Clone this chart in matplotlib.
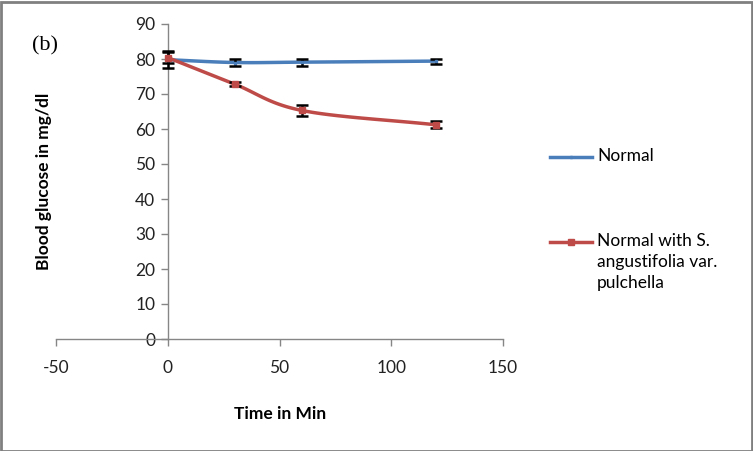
import numpy as np
import matplotlib
matplotlib.use("Agg")
import matplotlib.pyplot as plt
from matplotlib.lines import Line2D
from matplotlib.patches import Rectangle

plt.rcParams["axes.unicode_minus"] = False

time_min = [0, 30, 60, 120]
normal = [79.8, 79.0, 79.1, 79.4]
normal_err = [2.4, 1.0, 1.0, 0.7]
treated = [80.4, 72.8, 65.3, 61.2]
treated_err = [1.5, 0.6, 1.5, 1.0]
series_names = ["Normal", "Normal with S.\nangustifolia var.\npulchella"]
xticks = [-50, 0, 50, 100, 150]
yticks = [0, 10, 20, 30, 40, 50, 60, 70, 80, 90]

BLUE = "#4A7EBB"
RED = "#BE4B48"
GRAY = "#868686"
FONT = ["Lato", "DejaVu Sans"]


def smooth(x, y, n=30):
    # Catmull-Rom style smoothing for drawing (like Excel smoothed line)
    x = np.asarray(x, float); y = np.asarray(y, float)
    P = np.column_stack([x, y])
    P = np.vstack([P[0] - (P[1] - P[0]), P, P[-1] + (P[-1] - P[-2])])
    out = []
    for i in range(1, len(P) - 2):
        p0, p1, p2, p3 = P[i - 1], P[i], P[i + 1], P[i + 2]
        t = np.linspace(0, 1, n)[:, None]
        m1 = (p2 - p0) / 6.0
        m2 = (p3 - p1) / 6.0
        b0 = p1; b1 = p1 + m1; b2 = p2 - m2; b3 = p2
        seg = ((1 - t) ** 3) * b0 + 3 * ((1 - t) ** 2) * t * b1 + 3 * (1 - t) * t ** 2 * b2 + t ** 3 * b3
        out.append(seg)
    out = np.vstack(out)
    return out[:, 0], out[:, 1]


fig = plt.figure(figsize=(7.53, 4.51), dpi=100)
ax = fig.add_axes([56 / 753, 1 - 339 / 451, (503 - 56) / 753, (339 - 24) / 451])

for vals, err, col, ms in [(normal, normal_err, BLUE, 2), (treated, treated_err, RED, 4.5)]:
    sx, sy = smooth(time_min, vals)
    ax.plot(sx, sy, color=col, lw=2.5, solid_capstyle="round", zorder=2)
    ax.errorbar(time_min, vals, yerr=err, fmt="none", ecolor="black", elinewidth=1.8,
                capsize=4.5, capthick=1.8, zorder=3)
    ax.plot(time_min, vals, ls="none", marker="s", ms=ms, color=col, zorder=4)

ax.set_xlim(-50, 150)
ax.set_ylim(0, 90)
ax.set_xticks(xticks)
ax.set_yticks(yticks)
ax.spines["left"].set_position(("data", 0))
ax.spines["bottom"].set_position(("data", 0))
ax.spines["right"].set_visible(False)
ax.spines["top"].set_visible(False)
for s in ("left", "bottom"):
    ax.spines[s].set_color(GRAY)
    ax.spines[s].set_linewidth(1.0)
ax.tick_params(axis="both", direction="out", length=5, width=1.0, color=GRAY,
               labelsize=12.5, labelcolor="#222222")
ax.tick_params(axis="x", pad=10)
ax.tick_params(axis="y", pad=4)
for lab in ax.get_xticklabels() + ax.get_yticklabels():
    lab.set_family(FONT)

fig.text(280 / 753, 1 - 414 / 451, "Time in Min", ha="center", va="center",
         fontsize=12.5, fontweight="bold", family=FONT)
fig.text(44 / 753, 1 - 181 / 451, "Blood glucose in mg/dl", ha="center", va="center",
         rotation=90, fontsize=12.5, fontweight="bold", family=FONT)
fig.text(45 / 753, 1 - 46 / 451, "(b)", ha="center", va="center", fontsize=16,
         family=["Liberation Serif", "DejaVu Serif"])

# legend (manual)
leg_y = [157, 242]
for name, col, yy, ms in zip(series_names, [BLUE, RED], leg_y, [2, 4.5]):
    fy = 1 - yy / 451
    fig.add_artist(Line2D([550 / 753, 592 / 753], [fy, fy], color=col, lw=2.5,
                          transform=fig.transFigure))
    fig.add_artist(Line2D([571 / 753], [fy], color=col, marker="s", ms=ms, ls="none",
                          transform=fig.transFigure))
    fig.text(597 / 753, fy + 9 / 451, name, ha="left", va="top", fontsize=12.5,
             family=FONT, linespacing=1.4)

fig.add_artist(Rectangle((0.5 / 753, 0.5 / 451), 751 / 753, 449 / 451, fill=False,
                         edgecolor="#808080", lw=2, transform=fig.transFigure))

fig.savefig("out.png", dpi=100)
